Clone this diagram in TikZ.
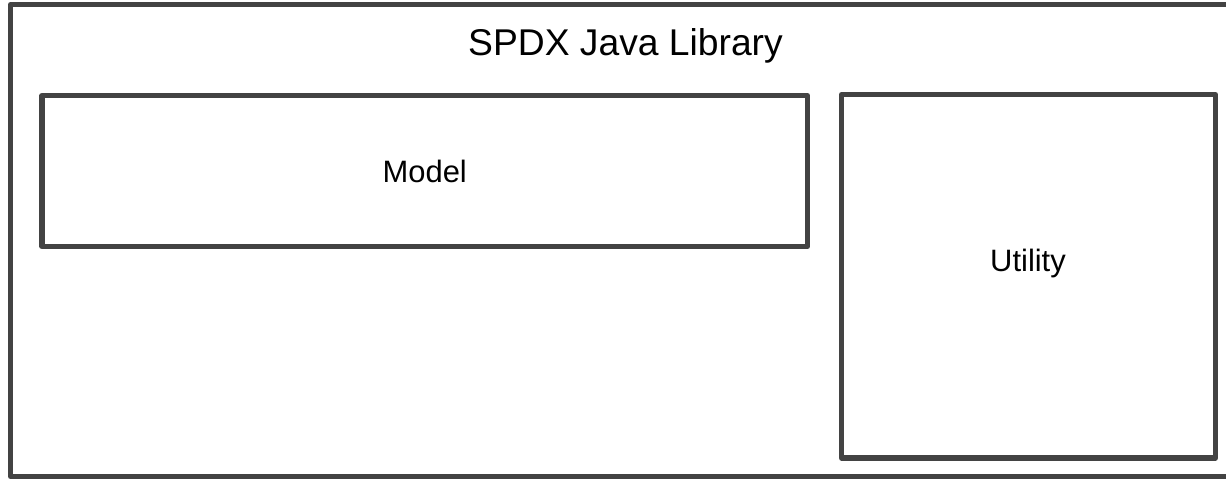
\documentclass[tikz,border=0pt]{standalone}
\usepackage{fontspec}
\setmainfont{Liberation Sans}
\usetikzlibrary{positioning}
\definecolor{boxgray}{HTML}{434343}

\begin{document}
\begin{tikzpicture}[x=0.02cm, y=-0.02cm, every node/.style={font=\fontsize{17.6pt}{20pt}\selectfont}]
  % Styles
  \tikzset{
    frame/.style={rectangle, draw=boxgray, line width=3pt, line join=round, inner sep=0pt},
    label/.style={anchor=base, inner sep=0pt}
  }

  % Picture area
  \clip (0,0) rectangle (1226,479);

  % Outer library box (right edge runs off the picture)
  \node[frame, minimum width=24.43cm, minimum height=9.44cm] (library) at (621.25,240.5) {};
  \node[label, font=\fontsize{21.2pt}{24pt}\selectfont] (title) at (625.5,56) {SPDX Java Library};

  % Inner modules
  \node[frame, minimum width=15.31cm, minimum height=3.02cm] (model) at (424.75,171) {};
  \node[label] (modeltext) at (424.75,183) {Model};
  \node[frame, minimum width=7.48cm, minimum height=7.27cm] (utility) at (1028.5,276.25) {};
  \node[label] (utilitytext) at (1028,272) {Utility};

\end{tikzpicture}
\end{document}
